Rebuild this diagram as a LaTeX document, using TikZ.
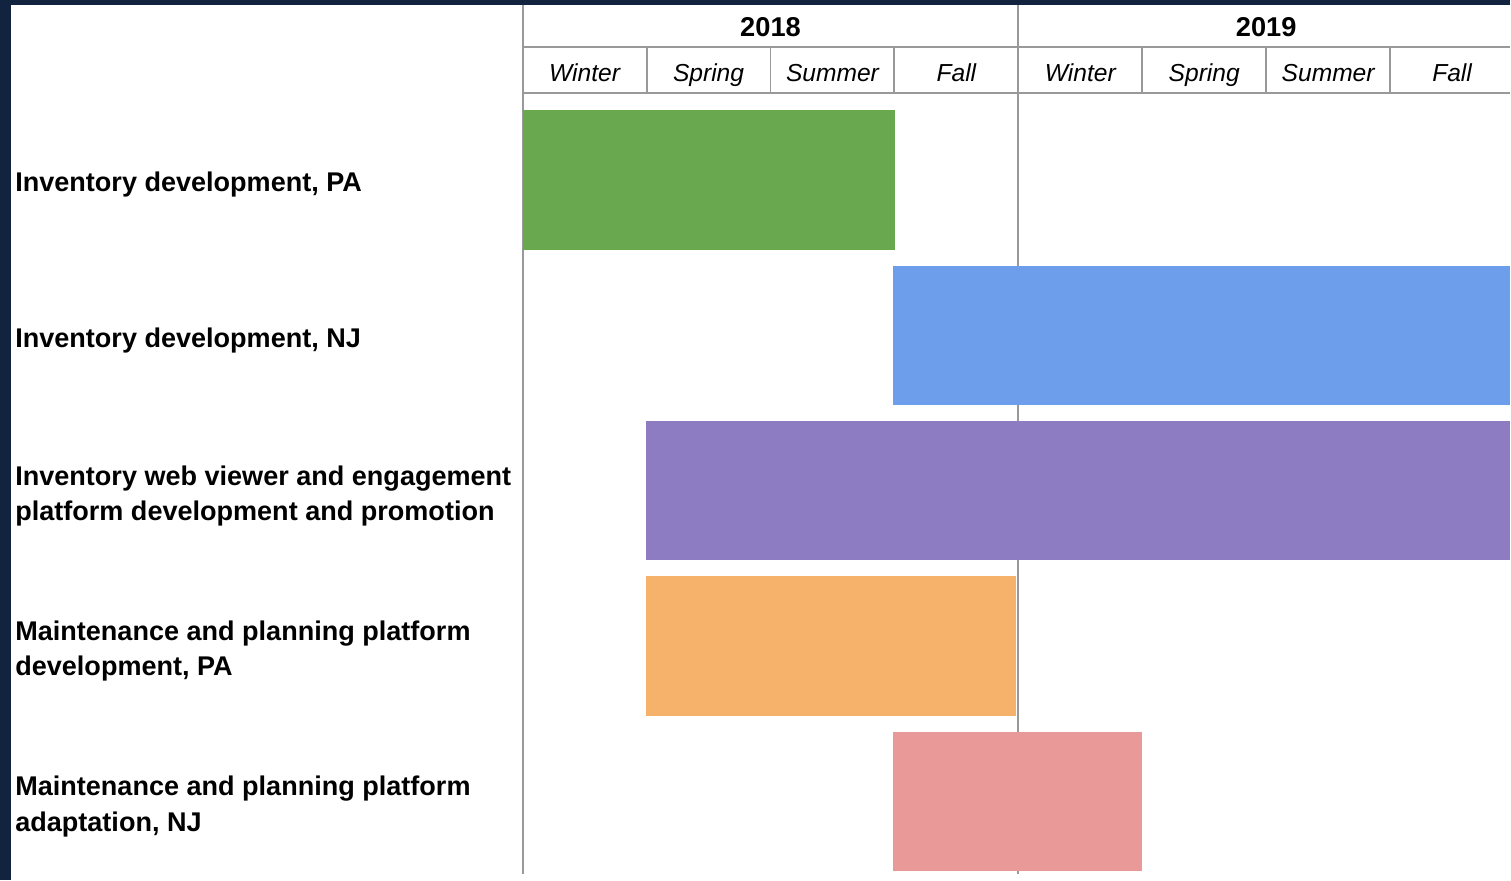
\documentclass[tikz,border=0pt]{standalone}
\usepackage{fontspec}
\setmainfont{Liberation Sans}
\usepackage{xcolor}
\definecolor{navy}{HTML}{12233F}
\definecolor{gbar}{HTML}{6AA84F}
\definecolor{bbar}{HTML}{6D9EEB}
\definecolor{pbar}{HTML}{8E7CC3}
\definecolor{obar}{HTML}{F6B26B}
\definecolor{rbar}{HTML}{EA9999}

\begin{document}
\begin{tikzpicture}[x=.02cm,y=-.02cm,
    rule/.style={draw=black!40,line width=1.1pt},
    yr/.style={font=\bfseries\fontsize{15.5}{18}\selectfont},
    ssn/.style={anchor=base,font=\itshape\fontsize{14}{17}\selectfont},
    task/.style={anchor=west,align=left,inner sep=0pt,
      font=\bfseries\fontsize{15.4}{20}\selectfont}]
  \fill[navy] (0,0) rectangle (1511,881);
  \fill[white] (11,5) rectangle (1511,881);
  % grid
  \draw[rule] (523,5) -- (523,875) (1019,5) -- (1019,875)
    (523,47) -- (1511,47) (523,93) -- (1511,93);
  \foreach \x in {647,771,895,1143,1267,1391}
    \draw[rule] (\x,47) -- (\x,93);
  % header
  \node (y18) [yr] at (771,27) {2018};
  \node (y19) [yr] at (1267,27) {2019};
  \foreach \s [count=\i from 0] in {Winter,Spring,Summer,Fall,Winter,Spring,Summer,Fall}
    \node (s\i) [ssn] at (585+124*\i,82) {\s};
  % bars
  \fill[gbar] (523,110) rectangle (896,250);
  \fill[bbar] (894,266) rectangle (1511,405);
  \fill[pbar] (646,421) rectangle (1511,560);
  \fill[obar] (646,576) rectangle (1017,716);
  \fill[rbar] (894,732) rectangle (1143,872);
  % tasks
  \node (invPA) [task] at (15,185) {Inventory development, PA};
  \node (invNJ) [task] at (15,341) {Inventory development, NJ};
  \node (web) [task] at (15,496) {Inventory web viewer and engagement\\platform development and promotion};
  \node (mpPA) [task] at (15,651) {Maintenance and planning platform\\development, PA};
  \node (mpNJ) [task] at (15,807) {Maintenance and planning platform\\adaptation, NJ};
\end{tikzpicture}
\end{document}
